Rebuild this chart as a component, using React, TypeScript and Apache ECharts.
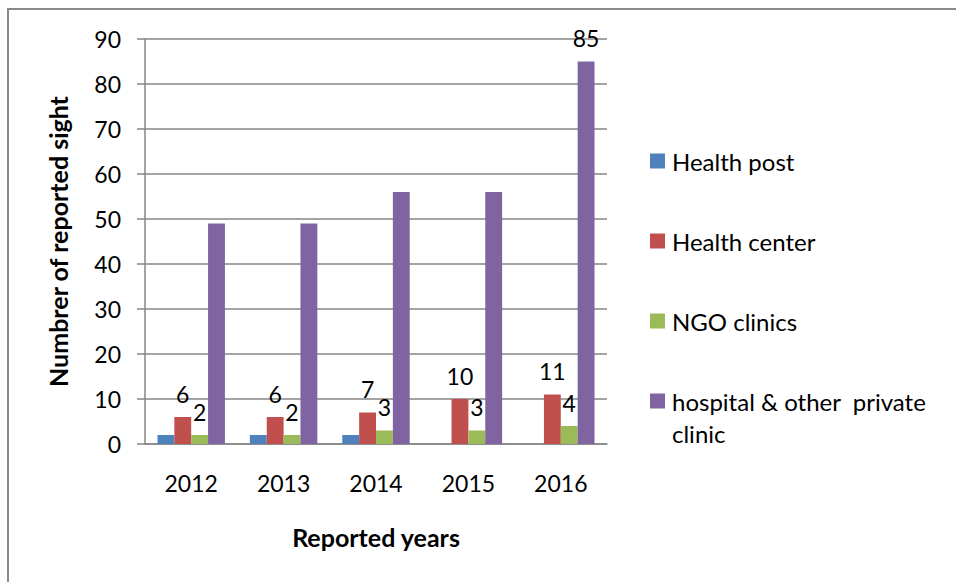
import React, { useEffect, useRef } from "react";
import * as echarts from "echarts";

const categories = ["2012", "2013", "2014", "2015", "2016"];
const seriesNames = ["Health post", "Health center", "NGO clinics", "hospital & other  private clinic"];
const healthPost = [2, 2, 2, 0, 0];
const healthCenter = [6, 6, 7, 10, 11];
const ngoClinics = [2, 2, 3, 3, 4];
const hospital = [49, 49, 56, 56, 85];
const hospitalLabelled = [false, false, false, false, true];
const colors = ["#4F81BD", "#C0504D", "#9BBB59", "#8064A2"];
const yTitle = "Numbrer of reported sight";
const xTitle = "Reported years";

const FONT = "Lato, 'Open Sans', sans-serif";

export default function App() {
  const ref = useRef<HTMLDivElement>(null);
  useEffect(() => {
    document.body.style.margin = "0";
    if (!ref.current) return;
    const chart = echarts.init(ref.current, undefined, { renderer: "svg" });
    const labelStyle = {
      show: true,
      position: "top" as const,
      distance: 12,
      color: "#000",
      fontSize: 23,
      fontFamily: FONT,
    };
    chart.setOption({
      animation: false,
      color: colors,
      textStyle: { fontFamily: FONT },
      graphic: [
        {
          type: "rect",
          shape: { x: 8, y: 9, width: 1200, height: 1200 },
          style: { fill: "none", stroke: "#898989", lineWidth: 2 },
          silent: true,
        },
        {
          type: "text",
          left: 672,
          top: 421,
          style: { text: "clinic", fontSize: 24, fontFamily: FONT, fill: "#000" },
        },
      ],
      grid: { left: 145, right: 349, top: 39, bottom: 138 },
      legend: {
        orient: "vertical",
        left: 650,
        top: 149,
        padding: 0,
        itemWidth: 15,
        itemHeight: 15,
        itemGap: 56,
        icon: "rect",
        data: seriesNames,
        formatter: (name: string) => (name === seriesNames[3] ? "hospital & other\u00a0\u00a0private" : name),
        textStyle: { fontSize: 24, fontFamily: FONT, color: "#000", lineHeight: 24, padding: [0, 0, 0, 2] },
      },
      xAxis: {
        type: "category",
        data: categories,
        name: xTitle,
        nameLocation: "middle",
        nameGap: 80,
        nameTextStyle: { fontSize: 25, fontWeight: "bold", color: "#000", fontFamily: FONT },
        axisLine: { lineStyle: { color: "#868686", width: 1.5 } },
        axisTick: { show: false },
        axisLabel: { fontSize: 23, color: "#000", margin: 27, fontFamily: FONT },
      },
      yAxis: {
        type: "value",
        min: 0,
        max: 90,
        interval: 10,
        name: yTitle,
        nameLocation: "middle",
        nameGap: 75,
        nameTextStyle: { fontSize: 25, fontWeight: "bold", color: "#000", fontFamily: FONT },
        axisLine: { show: true, lineStyle: { color: "#868686", width: 1.5 } },
        axisTick: { show: true, length: 8, lineStyle: { color: "#868686", width: 1.5 } },
        splitLine: { show: true, lineStyle: { color: "#868686", width: 1.5 } },
        axisLabel: { fontSize: 23, color: "#000", margin: 24, fontFamily: FONT },
      },
      series: [
        {
          name: seriesNames[0],
          type: "bar",
          data: healthPost,
          barGap: "0%",
          barCategoryGap: "27%",
        },
        {
          name: seriesNames[1],
          type: "bar",
          data: healthCenter,
          label: labelStyle,
        },
        {
          name: seriesNames[2],
          type: "bar",
          data: ngoClinics,
          label: labelStyle,
        },
        {
          name: seriesNames[3],
          type: "bar",
          data: hospital.map((v, i) => ({ value: v, label: { ...labelStyle, show: hospitalLabelled[i] } })),
        },
      ],
    });
    return () => chart.dispose();
  }, []);
  return <div ref={ref} style={{ width: 956, height: 582 }} />;
}
